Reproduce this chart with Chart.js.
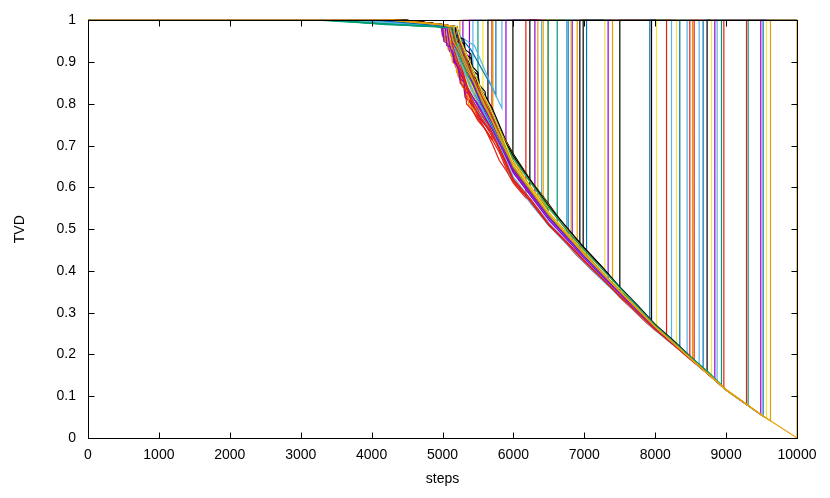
<!DOCTYPE html>
<html>
<head>
<meta charset="utf-8">
<title>TVD vs steps</title>
<script src="https://cdn.jsdelivr.net/npm/chart.js@4.4.1/dist/chart.umd.min.js"></script>
<style>
  html, body { margin: 0; padding: 0; background: #fff; }
</style>
</head>
<body>
<canvas id="tvdChart" width="830" height="498"></canvas>
<script>
// axis ticks
var xTicks = [0, 1000, 2000, 3000, 4000, 5000, 6000, 7000, 8000, 9000, 10000];
var yTicks = [0, 0.1, 0.2, 0.3, 0.4, 0.5, 0.6, 0.7, 0.8, 0.9, 1];
var yTickLabels = ['0', '0.1', '0.2', '0.3', '0.4', '0.5', '0.6', '0.7', '0.8', '0.9', '1'];

// TVD after a run finishes (every run goes back up to 1 and stays there)
var resetTvd = 1;
var lastStep = 10000;

// [step, TVD], one list per run, up to the step where it jumps back to 1
var runs = [
  [[0,1],[4300,1],[4800,0.993],[4990,0.985],[5000,0.96],[5060,0.955],[5080,0.93],[5150,0.925],[5170,0.9],[5245,0.895]],
  [[0,1],[4200,1],[4700,0.994],[4980,0.987],[5000,0.965],[5060,0.96],[5080,0.945],[5140,0.94],[5160,0.915],[5230,0.905],[5250,0.885],[5288,0.88]],
  [[0,1],[4400,1],[4900,0.99],[5010,0.985],[5030,0.95],[5100,0.945],[5120,0.925],[5180,0.92],[5200,0.89],[5260,0.88],[5280,0.86],[5340,0.855],[5380,0.84]],
  [[0,1],[4100,1],[4800,0.992],[5080,0.985],[5120,0.955],[5220,0.94],[5300,0.92],[5380,0.9],[5429,0.885]],
  [[0,1],[3500,1],[4200,0.992],[4900,0.987],[5100,0.975],[5150,0.94],[5250,0.92],[5350,0.88],[5440,0.85],[5500,0.83]],
  [[0,1],[4300,1],[4900,0.992],[5050,0.985],[5100,0.95],[5200,0.92],[5300,0.87],[5400,0.83],[5500,0.8],[5570,0.78]],
  [[0,1],[4500,1],[5000,0.99],[5130,0.985],[5180,0.94],[5260,0.91],[5350,0.89],[5450,0.86],[5550,0.83],[5641,0.81]],
  [[0,1],[4300,1],[4900,0.991],[5080,0.985],[5100,0.95],[5150,0.945],[5170,0.9],[5230,0.89],[5250,0.86],[5310,0.85],[5330,0.82],[5400,0.805],[5420,0.785],[5500,0.765],[5560,0.75],[5640,0.73],[5697,0.715]],
  [[0,1],[4400,1],[4950,0.99],[5060,0.985],[5080,0.94],[5120,0.935],[5140,0.9],[5200,0.895],[5220,0.87],[5280,0.865],[5300,0.84],[5380,0.83],[5480,0.81],[5600,0.78],[5711,0.75]],
  [[0,1],[4000,1],[4700,0.993],[5150,0.985],[5200,0.96],[5300,0.95],[5400,0.93],[5500,0.9],[5600,0.87],[5700,0.84],[5753,0.82]],
  [[0,1],[4100,1],[4800,0.99],[5200,0.985],[5260,0.96],[5350,0.95],[5450,0.94],[5550,0.9],[5650,0.86],[5750,0.82],[5838,0.79]],
  [[0,1],[4300,1],[4900,0.99],[5000,0.985],[5020,0.95],[5080,0.945],[5100,0.925],[5160,0.92],[5180,0.89],[5230,0.88],[5250,0.85],[5300,0.84],[5320,0.815],[5420,0.8],[5500,0.77],[5600,0.75],[5700,0.73],[5800,0.71],[5895,0.69]],
  [[0,1],[4500,1],[5000,0.99],[5200,0.985],[5220,0.96],[5300,0.955],[5320,0.93],[5400,0.92],[5420,0.89],[5500,0.875],[5520,0.845],[5600,0.83],[5620,0.8],[5700,0.78],[5800,0.74],[5900,0.7],[5993,0.67]],
  [[0,1],[4300,1],[4950,0.99],[5100,0.98],[5120,0.94],[5180,0.935],[5200,0.9],[5260,0.89],[5280,0.855],[5340,0.845],[5360,0.81],[5420,0.795],[5500,0.77],[5600,0.74],[5700,0.705],[5800,0.665],[5900,0.64],[6000,0.61],[6100,0.59],[6176,0.575]],
  [[0,1],[4400,1],[5000,0.99],[5150,0.98],[5200,0.93],[5280,0.9],[5380,0.87],[5480,0.83],[5580,0.8],[5700,0.76],[5800,0.72],[5900,0.69],[6000,0.66],[6100,0.63],[6232,0.605]],
  [[0,1],[4200,1],[4800,0.99],[5100,0.985],[5150,0.94],[5250,0.92],[5300,0.88],[5350,0.86],[5420,0.84],[5500,0.8],[5600,0.77],[5700,0.74],[5800,0.7],[6000,0.645],[6150,0.61],[6303,0.58]],
  [[0,1],[4400,1],[5000,0.99],[5070,0.98],[5090,0.94],[5130,0.935],[5150,0.9],[5200,0.89],[5220,0.865],[5280,0.86],[5350,0.83],[5450,0.8],[5550,0.78],[5650,0.75],[5800,0.71],[6000,0.65],[6200,0.605],[6345,0.575]],
  [[0,1],[3800,1],[4600,0.99],[5200,0.985],[5260,0.94],[5350,0.9],[5450,0.86],[5550,0.82],[5650,0.78],[5800,0.72],[6000,0.655],[6200,0.6],[6397,0.56]],
  [[0,1],[4300,1],[4900,0.99],[5020,0.985],[5040,0.95],[5100,0.945],[5120,0.915],[5180,0.91],[5200,0.875],[5260,0.87],[5280,0.84],[5350,0.83],[5370,0.8],[5450,0.785],[5550,0.765],[5700,0.735],[5850,0.69],[6000,0.64],[6200,0.595],[6420,0.555]],
  [[0,1],[4500,1],[5000,0.99],[5150,0.985],[5200,0.95],[5280,0.92],[5380,0.89],[5480,0.85],[5580,0.8],[5700,0.76],[5850,0.72],[6000,0.67],[6200,0.61],[6486,0.55]],
  [[0,1],[3400,1],[4000,0.995],[4600,0.987],[5100,0.983],[5200,0.96],[5300,0.91],[5400,0.86],[5500,0.82],[5650,0.78],[5800,0.72],[6000,0.655],[6250,0.595],[6491,0.545]],
  [[0,1],[3500,1],[4200,0.99],[5000,0.985],[5150,0.975],[5200,0.93],[5300,0.9],[5380,0.86],[5480,0.82],[5600,0.78],[5750,0.73],[5900,0.69],[6100,0.63],[6350,0.57],[6618,0.51]],
  [[0,1],[4000,1],[4700,0.99],[5100,0.985],[5150,0.95],[5250,0.91],[5350,0.86],[5450,0.81],[5550,0.78],[5700,0.74],[5850,0.69],[6000,0.64],[6250,0.585],[6500,0.53],[6750,0.48]],
  [[0,1],[4200,1],[4900,0.99],[5150,0.985],[5200,0.94],[5300,0.9],[5400,0.85],[5500,0.81],[5650,0.77],[5800,0.71],[6000,0.64],[6250,0.58],[6500,0.53],[6772,0.48]],
  [[0,1],[4300,1],[5000,0.99],[5100,0.96],[5200,0.91],[5300,0.87],[5400,0.83],[5500,0.8],[5650,0.76],[5800,0.7],[6000,0.645],[6250,0.59],[6500,0.535],[6806,0.475]],
  [[0,1],[4300,1],[4950,0.99],[5040,0.98],[5060,0.94],[5140,0.935],[5160,0.9],[5220,0.89],[5240,0.86],[5300,0.855],[5320,0.83],[5400,0.82],[5500,0.8],[5600,0.77],[5700,0.73],[5850,0.69],[6000,0.64],[6250,0.58],[6500,0.525],[6829,0.465]],
  [[0,1],[4400,1],[5000,0.99],[5150,0.985],[5200,0.95],[5300,0.91],[5400,0.87],[5500,0.84],[5600,0.8],[5750,0.76],[5900,0.71],[6000,0.675],[6250,0.615],[6500,0.555],[6750,0.5],[6900,0.475]],
  [[0,1],[4500,1],[5000,0.99],[5200,0.985],[5250,0.95],[5350,0.9],[5450,0.85],[5550,0.81],[5700,0.76],[5850,0.71],[6000,0.655],[6250,0.59],[6500,0.535],[6750,0.485],[6937,0.455]],
  [[0,1],[4400,1],[5000,0.99],[5200,0.985],[5230,0.95],[5300,0.945],[5320,0.92],[5400,0.91],[5420,0.88],[5500,0.87],[5520,0.84],[5600,0.82],[5700,0.79],[5800,0.75],[5900,0.71],[6000,0.68],[6250,0.615],[6500,0.56],[6750,0.5],[6984,0.455]],
  [[0,1],[4100,1],[4800,0.99],[5150,0.985],[5200,0.95],[5300,0.91],[5400,0.86],[5500,0.82],[5650,0.77],[5800,0.72],[6000,0.65],[6250,0.59],[6500,0.535],[6750,0.48],[7032,0.43]],
  [[0,1],[4400,1],[5000,0.99],[5150,0.985],[5200,0.94],[5300,0.9],[5400,0.85],[5500,0.81],[5600,0.78],[5800,0.71],[6000,0.645],[6500,0.535],[7000,0.44],[7290,0.385]],
  [[0,1],[4200,1],[4900,0.99],[5100,0.985],[5150,0.945],[5250,0.91],[5350,0.87],[5450,0.83],[5550,0.8],[5700,0.75],[5850,0.7],[6000,0.64],[6500,0.53],[7000,0.435],[7336,0.375]],
  [[0,1],[4300,1],[5000,0.99],[5200,0.985],[5250,0.95],[5350,0.91],[5450,0.87],[5550,0.83],[5700,0.77],[5850,0.72],[6000,0.66],[6500,0.54],[7000,0.445],[7398,0.37]],
  [[0,1],[4500,1],[5000,0.99],[5150,0.98],[5200,0.935],[5300,0.9],[5400,0.86],[5500,0.82],[5650,0.77],[5800,0.72],[6000,0.65],[6500,0.535],[7000,0.44],[7501,0.35]],
  [[0,1],[4000,1],[4700,0.992],[5100,0.985],[5150,0.95],[5250,0.91],[5350,0.87],[5450,0.83],[5550,0.79],[5700,0.75],[5850,0.7],[6000,0.64],[6500,0.53],[7000,0.435],[7500,0.35],[7924,0.278]],
  [[0,1],[4400,1],[5000,0.99],[5180,0.985],[5200,0.95],[5280,0.945],[5300,0.91],[5380,0.9],[5400,0.87],[5480,0.86],[5500,0.83],[5600,0.8],[5700,0.77],[5800,0.74],[6000,0.67],[6250,0.61],[6500,0.55],[6750,0.5],[7000,0.455],[7250,0.41],[7500,0.36],[7750,0.305],[7948,0.268]],
  [[0,1],[4300,1],[4900,0.99],[5100,0.985],[5160,0.95],[5260,0.9],[5360,0.86],[5460,0.82],[5600,0.78],[5750,0.73],[6000,0.645],[6500,0.535],[7000,0.44],[7500,0.352],[8019,0.262]],
  [[0,1],[4300,1],[4900,0.99],[5080,0.985],[5100,0.95],[5160,0.94],[5180,0.9],[5240,0.885],[5260,0.85],[5320,0.835],[5340,0.8],[5420,0.785],[5500,0.76],[5600,0.74],[5700,0.715],[5800,0.685],[5900,0.645],[6000,0.615],[6120,0.59],[6250,0.565],[6380,0.535],[6500,0.51],[6620,0.49],[6750,0.465],[6880,0.44],[7000,0.42],[7120,0.4],[7250,0.38],[7380,0.36],[7500,0.337],[7620,0.318],[7750,0.297],[7880,0.275],[8000,0.258],[8160,0.238]],
  [[0,1],[4100,1],[4800,0.99],[5150,0.985],[5180,0.94],[5250,0.9],[5350,0.84],[5450,0.8],[5550,0.765],[5650,0.745],[5800,0.7],[5950,0.63],[6100,0.595],[6250,0.56],[6500,0.508],[6750,0.465],[7000,0.42],[7250,0.378],[7500,0.338],[7750,0.298],[8000,0.258],[8230,0.226]],
  [[0,1],[4400,1],[5000,0.99],[5200,0.985],[5250,0.95],[5350,0.9],[5450,0.86],[5550,0.82],[5700,0.77],[5850,0.72],[6000,0.67],[6250,0.61],[6500,0.55],[6750,0.5],[7000,0.45],[7250,0.405],[7500,0.358],[7750,0.313],[8000,0.27],[8301,0.222]],
  [[0,1],[4200,1],[4900,0.99],[5120,0.985],[5170,0.95],[5270,0.91],[5370,0.86],[5470,0.82],[5600,0.78],[5800,0.71],[6000,0.64],[6500,0.53],[7000,0.435],[7500,0.35],[8000,0.266],[8347,0.213]],
  [[0,1],[3900,1],[4600,0.99],[5050,0.985],[5100,0.95],[5200,0.91],[5300,0.86],[5400,0.82],[5500,0.78],[5650,0.75],[5800,0.7],[6000,0.625],[6250,0.57],[6500,0.515],[6750,0.47],[7000,0.425],[7250,0.385],[7500,0.342],[7750,0.302],[8000,0.261],[8250,0.226],[8450,0.196]],
  [[0,1],[4300,1],[4950,0.99],[5150,0.985],[5200,0.93],[5300,0.87],[5400,0.81],[5500,0.775],[5600,0.75],[5800,0.695],[6000,0.62],[6250,0.57],[6500,0.512],[6750,0.47],[7000,0.425],[7250,0.383],[7500,0.34],[7750,0.302],[8000,0.26],[8250,0.225],[8488,0.19]],
  [[0,1],[4400,1],[5000,0.99],[5080,0.98],[5120,0.94],[5200,0.92],[5300,0.88],[5400,0.85],[5500,0.82],[5650,0.77],[5800,0.74],[6000,0.675],[6250,0.615],[6500,0.557],[6750,0.5],[7000,0.452],[7250,0.405],[7500,0.36],[7750,0.315],[8000,0.272],[8250,0.232],[8526,0.188]],
  [[0,1],[4300,1],[4900,0.99],[5150,0.985],[5170,0.95],[5250,0.9],[5350,0.83],[5450,0.79],[5550,0.765],[5700,0.73],[5900,0.66],[6000,0.615],[6250,0.565],[6500,0.51],[6750,0.468],[7000,0.423],[7250,0.382],[7500,0.34],[7750,0.3],[8000,0.26],[8250,0.225],[8549,0.182]],
  [[0,1],[4000,1],[4700,0.99],[5100,0.985],[5150,0.94],[5250,0.9],[5350,0.86],[5450,0.82],[5550,0.79],[5700,0.74],[5900,0.67],[6000,0.635],[6500,0.525],[7000,0.432],[7500,0.346],[8000,0.264],[8500,0.19],[8620,0.172]],
  [[0,1],[4200,1],[4900,0.99],[5200,0.985],[5250,0.94],[5350,0.9],[5450,0.855],[5550,0.815],[5700,0.77],[5850,0.71],[6000,0.65],[6500,0.535],[7000,0.44],[7500,0.352],[8000,0.267],[8500,0.191],[8676,0.164]],
  [[0,1],[4500,1],[5000,0.99],[5200,0.985],[5260,0.95],[5360,0.91],[5460,0.87],[5560,0.83],[5700,0.78],[5850,0.72],[6000,0.675],[6250,0.615],[6500,0.555],[6750,0.505],[7000,0.455],[7250,0.41],[7500,0.362],[7750,0.318],[8000,0.272],[8250,0.235],[8500,0.195],[8732,0.158]],
  [[0,1],[4300,1],[4900,0.99],[5100,0.985],[5150,0.95],[5250,0.91],[5350,0.87],[5450,0.83],[5550,0.8],[5700,0.755],[5850,0.705],[6000,0.645],[6500,0.532],[7000,0.438],[7500,0.35],[8000,0.266],[8500,0.19],[8794,0.146]],
  [[0,1],[4200,1],[4900,0.99],[5060,0.985],[5100,0.94],[5180,0.9],[5260,0.87],[5350,0.84],[5450,0.81],[5550,0.78],[5700,0.74],[5850,0.69],[6000,0.635],[6500,0.522],[7000,0.43],[7500,0.346],[8000,0.264],[8500,0.19],[8841,0.139]],
  [[0,1],[4000,1],[4700,0.99],[5150,0.985],[5200,0.945],[5300,0.905],[5400,0.86],[5500,0.815],[5650,0.77],[5800,0.72],[6000,0.645],[6500,0.53],[7000,0.436],[7500,0.35],[8000,0.266],[8500,0.19],[8873,0.134]],
  [[0,1],[3400,1],[4100,0.992],[4800,0.987],[5150,0.982],[5200,0.94],[5300,0.9],[5400,0.86],[5500,0.82],[5650,0.78],[5800,0.73],[6000,0.67],[6250,0.61],[6500,0.552],[6750,0.498],[7000,0.45],[7250,0.405],[7500,0.36],[7750,0.315],[8000,0.27],[8250,0.232],[8500,0.194],[8750,0.158],[8935,0.127]],
  [[0,1],[4300,1],[4950,0.99],[5100,0.985],[5140,0.94],[5220,0.9],[5320,0.85],[5420,0.81],[5520,0.78],[5650,0.75],[5800,0.69],[6000,0.615],[6250,0.565],[6500,0.51],[6750,0.468],[7000,0.424],[7250,0.382],[7500,0.34],[7750,0.3],[8000,0.26],[8250,0.224],[8500,0.187],[8750,0.152],[8968,0.12]],
  [[0,1],[4400,1],[5000,0.99],[5200,0.985],[5250,0.945],[5350,0.9],[5450,0.86],[5550,0.82],[5700,0.77],[5850,0.71],[6000,0.645],[6500,0.532],[7000,0.438],[7500,0.35],[8000,0.265],[8500,0.19],[9000,0.115],[9288,0.08]],
  [[0,1],[3300,1],[4000,0.993],[4700,0.987],[5100,0.983],[5150,0.95],[5250,0.91],[5350,0.87],[5450,0.84],[5550,0.8],[5700,0.76],[5850,0.71],[6000,0.65],[6500,0.535],[7000,0.44],[7500,0.352],[8000,0.266],[8500,0.19],[9000,0.115],[9311,0.078]],
  [[0,1],[4200,1],[4900,0.99],[5100,0.985],[5150,0.945],[5250,0.92],[5350,0.88],[5450,0.84],[5550,0.8],[5700,0.755],[5850,0.7],[6000,0.64],[6500,0.528],[7000,0.435],[7500,0.349],[8000,0.265],[8500,0.19],[9000,0.115],[9489,0.056]],
  [[0,1],[4100,1],[4800,0.99],[5150,0.985],[5200,0.95],[5300,0.91],[5400,0.87],[5500,0.83],[5650,0.78],[5800,0.72],[6000,0.648],[6500,0.533],[7000,0.438],[7500,0.351],[8000,0.266],[8500,0.19],[9000,0.115],[9522,0.052]],
  [[0,1],[4300,1],[5000,0.99],[5200,0.985],[5260,0.95],[5360,0.91],[5460,0.87],[5560,0.83],[5700,0.78],[5850,0.72],[6000,0.655],[6500,0.538],[7000,0.44],[7500,0.351],[8000,0.266],[8500,0.19],[9000,0.115],[9570,0.047]],
  [[0,1],[4400,1],[5000,0.99],[5100,0.985],[5150,0.95],[5250,0.92],[5350,0.88],[5450,0.85],[5550,0.81],[5700,0.76],[5850,0.71],[6000,0.65],[6500,0.535],[7000,0.44],[7500,0.352],[8000,0.267],[8500,0.191],[9000,0.116],[9500,0.055],[9626,0.041]],
  [[0,1],[4300,1],[4950,0.99],[5150,0.985],[5200,0.95],[5300,0.91],[5400,0.87],[5500,0.83],[5650,0.78],[5800,0.72],[6000,0.65],[6500,0.535],[7000,0.44],[7500,0.351],[8000,0.266],[8500,0.19],[9000,0.115],[9500,0.055],[10000,0]]
];

// gnuplot-ish line colours, one letter per run
var palette = {
  P: '#9400d3', G: '#009e73', L: '#56b4e9', O: '#e69f00',
  Y: '#f0e442', B: '#0072b2', R: '#e51e10', K: '#000000'
};
var runColors = 'OPPLGYKROBLPKRKPOLOOGGLBYPOKKBYPOKBKYRLYBLRORLBKYPLGRRGPBYOO'.split('');

var fontFamily = '"Liberation Sans", Arial, Helvetica, sans-serif';

var datasets = runs.map(function(run, i) {
  var pts = run.map(function(p) { return {x: p[0], y: p[1]}; });
  var end = run[run.length - 1][0];
  pts.push({x: end, y: resetTvd});
  if (end < lastStep) pts.push({x: lastStep, y: resetTvd});
  return {
    data: pts,
    borderColor: palette[runColors[i]],
    borderWidth: 1.2,
    pointRadius: 0,
    fill: false,
    tension: 0,
    clip: false,
    order: runs.length - i   // later runs on top, like gnuplot
  };
});

// frame with inward ticks on all four sides
var frameTicks = {
  id: 'frameTicks',
  afterDatasetsDraw: function(chart) {
    var ctx = chart.ctx;
    var a = chart.chartArea;
    var xs = chart.scales.x, ys = chart.scales.y;
    var len = 6;
    var L = Math.round(a.left) + 0.5, R = Math.round(a.right) + 0.5;
    var T = Math.round(a.top) + 0.5, B = Math.round(a.bottom) + 0.5;
    ctx.save();
    ctx.strokeStyle = '#000';
    ctx.lineWidth = 1;
    ctx.beginPath();
    xTicks.forEach(function(v) {
      var px = Math.round(xs.getPixelForValue(v)) + 0.5;
      ctx.moveTo(px, B); ctx.lineTo(px, B - len);
      ctx.moveTo(px, T); ctx.lineTo(px, T + len);
    });
    yTicks.forEach(function(v) {
      var py = Math.round(ys.getPixelForValue(v)) + 0.5;
      ctx.moveTo(L, py); ctx.lineTo(L + len, py);
      ctx.moveTo(R, py); ctx.lineTo(R - len, py);
    });
    ctx.stroke();
    ctx.strokeRect(L, T, R - L, B - T);
    ctx.restore();
  }
};

var ctx = document.getElementById('tvdChart').getContext('2d');
var tvdChart = new Chart(ctx, {
  type: 'line',
  data: { datasets: datasets },
  options: {
    responsive: false,
    animation: false,
    events: [],
    layout: { padding: { top: 18, right: 33, left: 0, bottom: 0 } },
    plugins: { legend: { display: false }, tooltip: { enabled: false } },
    scales: {
      x: {
        type: 'linear',
        min: 0,
        max: 10000,
        grid: { display: false, drawTicks: false },
        border: { display: false },
        afterBuildTicks: function(s) { s.ticks = xTicks.map(function(v) { return {value: v}; }); },
        afterFit: function(s) { s.height = 60; },
        ticks: {
          padding: 9,
          color: '#000',
          maxRotation: 0,
          font: { family: fontFamily, size: 14 },
          callback: function(v) { return String(v); }
        },
        title: {
          display: true,
          text: 'steps',
          color: '#000',
          font: { family: fontFamily, size: 14 },
          padding: { top: 0, bottom: 10 }
        }
      },
      y: {
        type: 'linear',
        min: 0,
        max: 1,
        grid: { display: false, drawTicks: false },
        border: { display: false },
        afterBuildTicks: function(s) { s.ticks = yTicks.map(function(v) { return {value: v}; }); },
        afterFit: function(s) { s.width = 88; },
        ticks: {
          padding: 12,
          color: '#000',
          font: { family: fontFamily, size: 14 },
          callback: function(v, i) { return yTickLabels[i]; }
        },
        title: {
          display: true,
          text: 'TVD',
          color: '#000',
          font: { family: fontFamily, size: 14 },
          padding: { top: 12, bottom: 0 }
        }
      }
    }
  },
  plugins: [frameTicks]
});
</script>
</body>
</html>
